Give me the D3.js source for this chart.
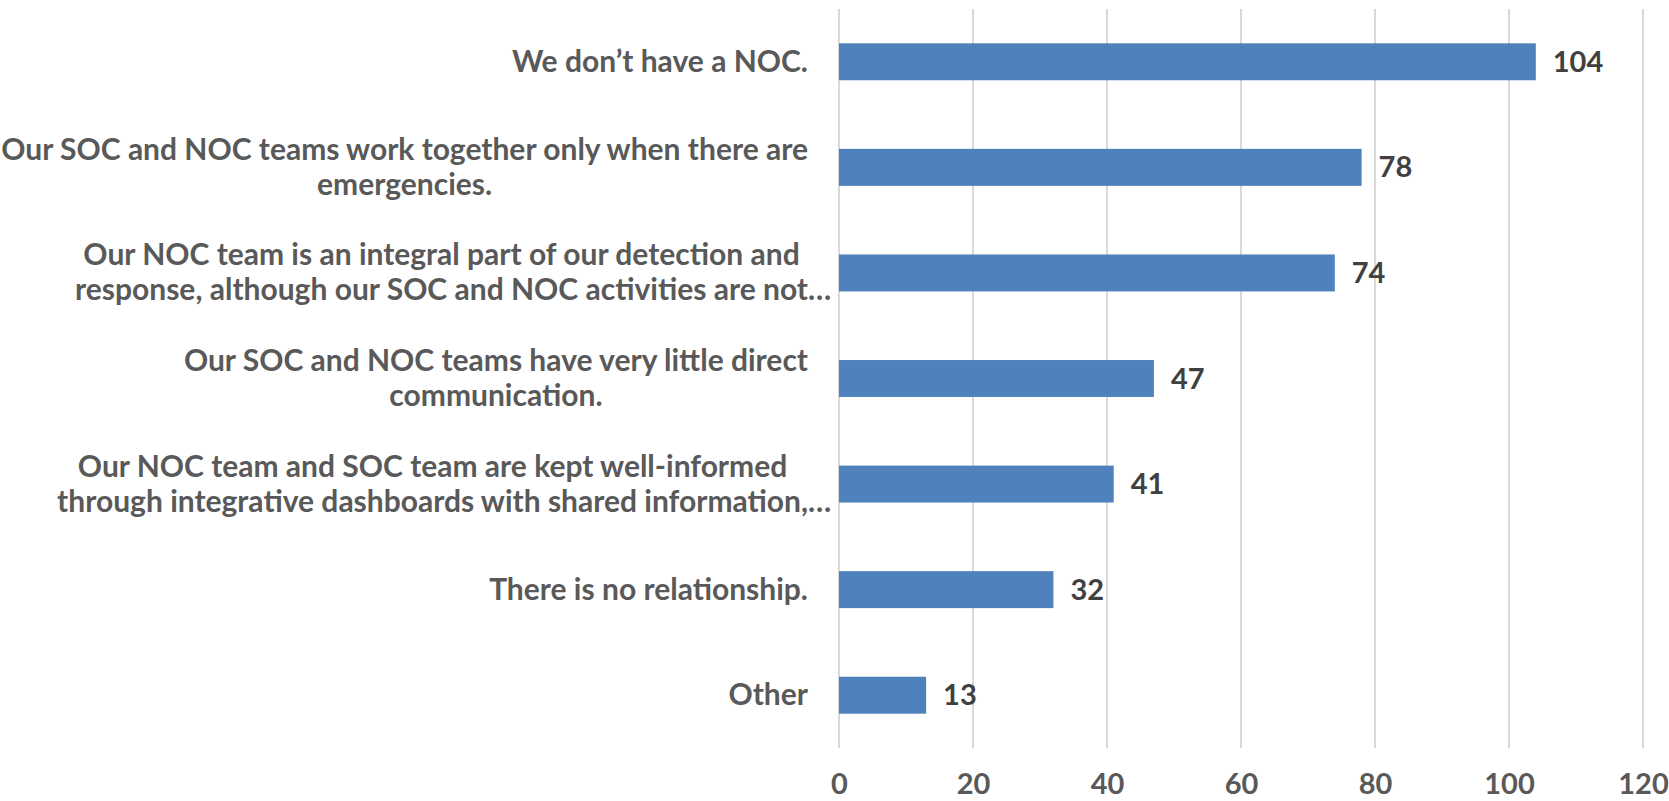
<!DOCTYPE html>
<html>
<head>
<meta charset="utf-8">
<script src="https://cdn.jsdelivr.net/npm/d3@7"></script>
<style>
  body { margin: 0; background: #fff; }
  text { font-family: "Lato", "Open Sans", sans-serif; font-weight: bold; }
</style>
</head>
<body>
<div id="chart"></div>
<script>
// survey answers, top to bottom ("\n" = where the label wraps)
var categories = [
  "We don’t have a NOC.",
  "Our SOC and NOC teams work together only when there are\nemergencies.",
  "Our NOC team is an integral part of our detection and\nresponse, although our SOC and NOC activities are not…",
  "Our SOC and NOC teams have very little direct\ncommunication.",
  "Our NOC team and SOC team are kept well-informed\nthrough integrative dashboards with shared information,…",
  "There is no relationship.",
  "Other"
];
var counts = [104, 78, 74, 47, 41, 32, 13];
var xTicks = [0, 20, 40, 60, 80, 100, 120];

// size of the page
var width = 1669,
    height = 801;

var margin = { top: 9, right: 26, bottom: 53, left: 839 };

var svg = d3.select("#chart").append("svg")
    .attr("width", width)
    .attr("height", height);

// scales
var x = d3.scaleLinear()
    .domain([0, 120])
    .range([margin.left, width - margin.right]);

var y = d3.scaleBand()
    .domain(categories)
    .range([margin.top, height - margin.bottom])
    .paddingInner(0.65)
    .paddingOuter(0.325);

// vertical gridlines
svg.append("g")
    .attr("class", "grid")
    .selectAll("line")
    .data(xTicks)
    .enter().append("line")
    .attr("x1", function(d) { return x(d); })
    .attr("x2", function(d) { return x(d); })
    .attr("y1", margin.top)
    .attr("y2", height - margin.bottom)
    .style("stroke", "#d9d9d9")
    .style("stroke-width", 2);

// x axis, only the labels
var xAxis = d3.axisBottom(x)
    .tickValues(xTicks)
    .tickSize(0)
    .tickPadding(0)
    .tickFormat(d3.format("d"));

var gx = svg.append("g")
    .attr("class", "xaxis")
    .attr("transform", "translate(0," + (height - margin.bottom) + ")")
    .call(xAxis);

gx.select(".domain").remove();
gx.selectAll("text")
    .attr("y", 46)
    .attr("dy", 0)
    .style("font-size", "29px")
    .style("fill", "#595959");

// bars
svg.selectAll(".bar")
    .data(counts)
    .enter().append("rect")
    .attr("class", "bar")
    .attr("x", x(0))
    .attr("y", function(d, i) { return y(categories[i]); })
    .attr("width", function(d) { return x(d) - x(0); })
    .attr("height", y.bandwidth())
    .style("fill", "#4f81bd");

// value labels
svg.selectAll(".value")
    .data(counts)
    .enter().append("text")
    .attr("class", "value")
    .attr("x", function(d) { return x(d) + 17; })
    .attr("y", function(d, i) { return y(categories[i]) + y.bandwidth() / 2 + 10; })
    .style("font-size", "29px")
    .style("fill", "#404040")
    .text(function(d) { return d; });

// category labels, wrapped lines are centred on each other
var labelRight = x(0) - 31,
    lineGap = 35;

var labels = svg.selectAll(".label")
    .data(categories)
    .enter().append("g")
    .attr("class", "label");

labels.each(function(cat) {
  var g = d3.select(this),
      lines = cat.split("\n"),
      mid = y(cat) + y.bandwidth() / 2;

  var texts = lines.map(function(line, j) {
    return g.append("text")
      .attr("y", mid + 10 + (j - (lines.length - 1) / 2) * lineGap)
      .style("font-size", "30px")
      .style("fill", "#595959")
      .text(line);
  });

  // width of each line without a trailing ellipsis
  var widths = texts.map(function(t, j) {
    var w = t.node().getComputedTextLength();
    if (lines[j].slice(-1) === "…") {
      w -= t.node().getSubStringLength(lines[j].length - 1, 1);
    }
    return w;
  });
  var maxW = d3.max(widths),
      centre = labelRight - maxW / 2;

  texts.forEach(function(t, j) {
    t.attr("x", centre - widths[j] / 2);
  });
});
</script>
</body>
</html>
